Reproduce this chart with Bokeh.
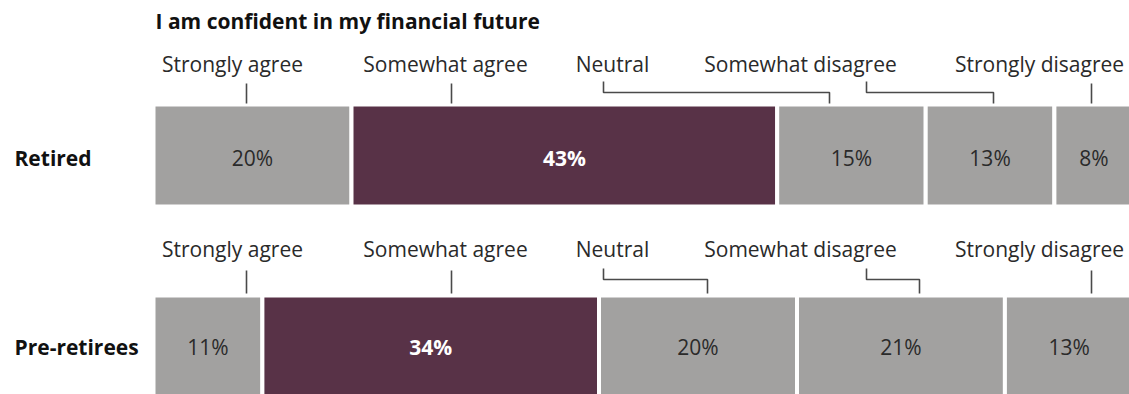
from bokeh.plotting import figure
from bokeh.models import Range1d, ColumnDataSource
from bokeh.core.properties import value
from bokeh.embed import file_html
from bokeh.resources import INLINE

# ---- data ----
title = "I am confident in my financial future"
categories = ["Strongly agree", "Somewhat agree", "Neutral", "Somewhat disagree", "Strongly disagree"]
groups = ["Retired", "Pre-retirees"]
retired = [20, 43, 15, 13, 8]
pre_retirees = [11, 34, 20, 21, 13]
highlight = "Somewhat agree"

# ---- layout / style ----
W, H = 1129, 394
PX0, PXU = 153.0, 9.9          # pixel of value 0, pixels per percentage point
FONT = "Open Sans"
GRAY = "#a2a1a0"
PURPLE = "#583247"
TEXT = "#2a2a2a"
LINE = "#4a4a4a"


def px(x):
    return (x - PX0) / PXU


row_top = [104, 295]
row_bot = [206, 398]
row_mid = [157, 346]
label_base = [63, 248]
leader_y = [(81, 92, 103), (268, 279, 293)]
label_center_px = [232, 445, 612, 800, 1039]
leader_start_px = [246, 451, 603, 866, 1091]
leader_end_px = [[246, 451, 829, 993, 1091], [246, 451, 707, 919, 1091]]

p = figure(width=W, height=H, x_range=Range1d(px(0), px(W)), y_range=Range1d(H, 0),
           output_backend="svg", toolbar_location=None, min_border=0,
           x_axis_location=None, y_axis_location=None)
p.grid.visible = False
p.outline_line_color = None
p.background_fill_color = "white"
p.border_fill_color = "white"

for r, (name, vals) in enumerate(zip(groups, [retired, pre_retirees])):
    rights, s = [], 0
    for v in vals:
        s += v
        rights.append(s)
    lefts = [rr - v for rr, v in zip(rights, vals)]
    colors = [PURPLE if c == highlight else GRAY for c in categories]
    src = ColumnDataSource(dict(left=lefts, right=rights, color=colors,
                                mid=[(a + b) / 2 for a, b in zip(lefts, rights)],
                                txt=[f"{v}%" for v in vals],
                                tcol=["white" if c == highlight else TEXT for c in categories],
                                tstyle=["bold" if c == highlight else "normal" for c in categories]))
    p.quad(left="left", right="right", top=row_top[r], bottom=row_bot[r], fill_color="color",
           line_color="white", line_width=4, source=src)
    p.text(x="mid", y=row_mid[r], text="txt", text_color="tcol", text_font_style="tstyle",
           text_font=value(FONT), text_font_size="21px", text_align="center",
           text_baseline="middle", source=src)
    # row name
    p.text(x=[px(14)], y=[row_mid[r]], text=[name], text_font=value(FONT), text_font_style="bold",
           text_font_size="21px", text_color="#111111", text_align="left", text_baseline="middle")
    # category labels
    p.text(x=[px(c) for c in label_center_px], y=[label_base[r]] * len(categories), text=categories,
           text_font=value(FONT), text_font_size="21px", text_color=TEXT, text_align="center",
           text_baseline="alphabetic")
    # leader lines
    yt, ye, yb = leader_y[r]
    xs, ys = [], []
    for x0, x1 in zip(leader_start_px, leader_end_px[r]):
        if x0 == x1:
            xs.append([px(x0), px(x0)])
            ys.append([yt + 2, yb])
        else:
            xs.append([px(x0), px(x0), px(x1), px(x1)])
            ys.append([yt, ye, ye, yb])
    p.multi_line(xs=xs, ys=ys, line_color=LINE, line_width=1.6)

p.text(x=[px(155)], y=[20], text=[title], text_font=value(FONT), text_font_style="bold",
       text_font_size="21px", text_color="#111111", text_align="left", text_baseline="alphabetic")

open("out.html", "w").write(file_html(p, INLINE))
